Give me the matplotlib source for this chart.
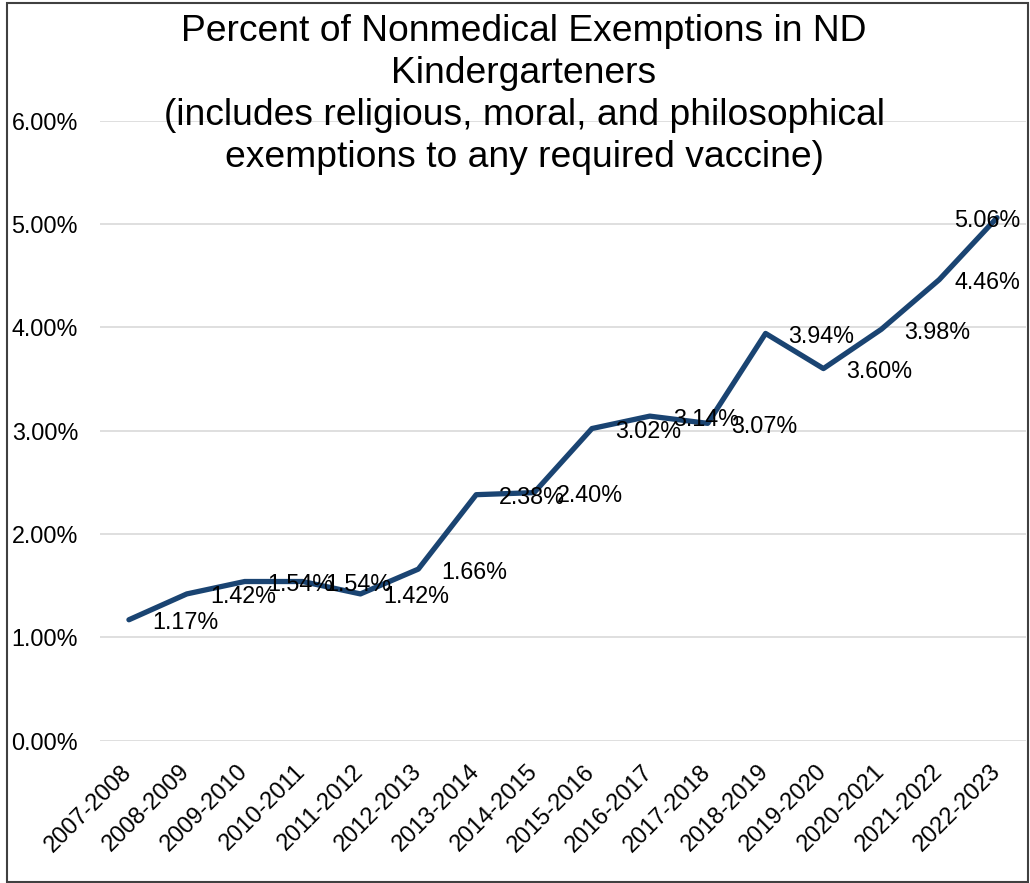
import numpy as np
import pandas as pd
import matplotlib
matplotlib.use('Agg')
import matplotlib.pyplot as plt
from matplotlib.patches import Rectangle

school_years = ['2007-2008', '2008-2009', '2009-2010', '2010-2011', '2011-2012',
                '2012-2013', '2013-2014', '2014-2015', '2015-2016', '2016-2017',
                '2017-2018', '2018-2019', '2019-2020', '2020-2021', '2021-2022',
                '2022-2023']
pct_exempt = [1.17, 1.42, 1.54, 1.54, 1.42, 1.66, 2.38, 2.40, 3.02, 3.14,
              3.07, 3.94, 3.60, 3.98, 4.46, 5.06]
y_ticks = [0, 1, 2, 3, 4, 5, 6]

title = ('Percent of Nonmedical Exemptions in ND\nKindergarteners\n'
         '(includes religious, moral, and philosophical\n'
         'exemptions to any required vaccine)')

plt.rcParams['font.family'] = ['Liberation Sans', 'DejaVu Sans']

df = pd.DataFrame({'year': school_years, 'pct': pct_exempt})
x = np.arange(len(df))

W, H = 1030, 883
fig = plt.figure(figsize=(W / 100, H / 100), dpi=100)
ax = fig.add_axes([100 / W, 1 - 740.7 / H, 926 / W, 620.2 / H])

ax.plot(x, df['pct'], color='#1a4472', lw=3.8, solid_capstyle='round',
        solid_joinstyle='round', zorder=3)

ax.set_xlim(-0.5, len(df) - 0.5)
ax.set_ylim(0, 6)
ax.set_yticks(y_ticks)
ax.set_yticklabels(['{:.2f}%'.format(v) for v in y_ticks])
ax.set_xticks(x)
ax.set_xticklabels(df['year'], rotation=45, ha='right', va='center',
                   rotation_mode='anchor')
ax.tick_params(axis='y', length=0, pad=15.8, labelsize=16.8)
ax.tick_params(axis='x', length=0, pad=20, labelsize=17)
ax.grid(axis='y', color='#d9d9d9', lw=1.2)
ax.set_axisbelow(True)
for s in ax.spines.values():
    s.set_visible(False)

# data labels to the right of each point, kept inside the chart area
labels = []
for xi, v in zip(x, df['pct']):
    t = ax.annotate('{:.2f}%'.format(v), (xi, v), xytext=(23, -3),
                    textcoords='offset pixels', ha='left', va='center',
                    fontsize=16.8, zorder=4)
    labels.append(t)

fig.canvas.draw()
renderer = fig.canvas.get_renderer()
for t in labels:
    bb = t.get_window_extent(renderer)
    if bb.x1 > 1020:
        dx, dy = t.xyann
        t.xyann = (dx - (bb.x1 - 1020), dy)

fig.text(524 / W, 1 - 14 / H, title, ha='center', va='top', fontsize=26.8,
         linespacing=1.26)

fig.patches.append(Rectangle((7 / W, 1 / H), 1021 / W, 879 / H,
                             transform=fig.transFigure, fill=False,
                             ec='#404040', lw=1.5))

fig.savefig('out.png', dpi=100)
